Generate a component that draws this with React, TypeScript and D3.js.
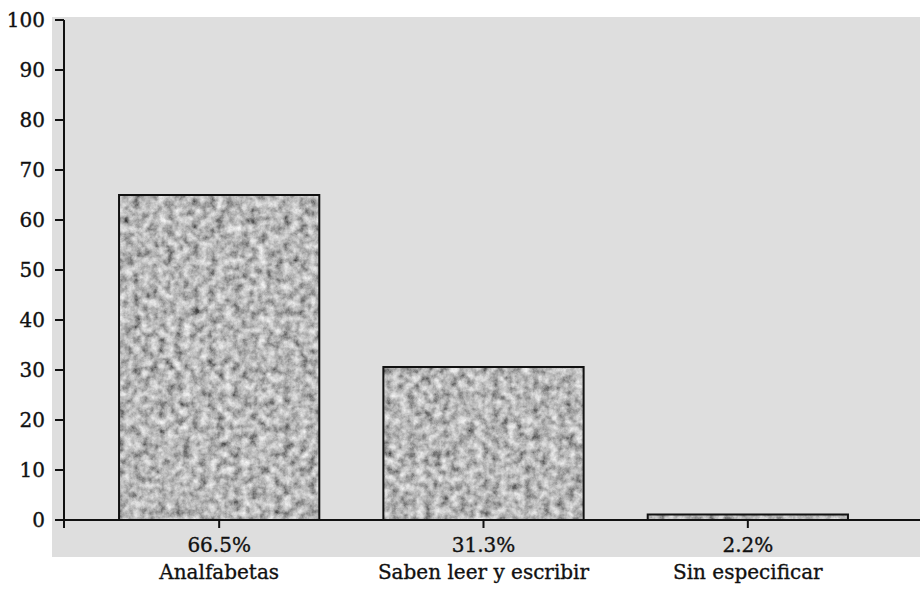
import React from "react";
import * as d3 from "d3";

const categories = ["Analfabetas", "Saben leer y escribir", "Sin especificar"];
const percentLabels = ["66.5%", "31.3%", "2.2%"];
const barValues = [65, 30.6, 1.1];
const yTicks = [0, 10, 20, 30, 40, 50, 60, 70, 80, 90, 100];

const W = 920;
const H = 590;

export default function App() {
  const axisX = 64;
  const y = d3.scaleLinear().domain([0, 100]).range([520, 20]);
  const x = d3.scaleBand().domain(categories).range([87, 880]).paddingInner(0.2424).paddingOuter(0.1212);
  const font = "DejaVu Serif, Liberation Serif, serif";
  const textStyle = { stroke: "#111", strokeWidth: 0.35 } as React.CSSProperties;
  return (
    <svg width={W} height={H} style={{ position: "absolute", left: 0, top: 0 }}>
      <defs>
        <filter id="grain" x="0" y="0" width="100%" height="100%">
          <feTurbulence type="fractalNoise" baseFrequency="0.12" numOctaves="5" seed="7" result="n" />
          <feComponentTransfer in="n" result="g">
            <feFuncR type="linear" slope="1.5" intercept="-0.27" />
            <feFuncG type="linear" slope="1.5" intercept="-0.27" />
            <feFuncB type="linear" slope="1.5" intercept="-0.27" />
            <feFuncA type="linear" slope="0" intercept="1" />
          </feComponentTransfer>
          <feColorMatrix in="g" type="saturate" values="0" result="gray" />
          <feComposite in="gray" in2="SourceGraphic" operator="in" />
        </filter>
      </defs>
      <rect x={0} y={0} width={W} height={H} fill="#ffffff" />
      <rect x={52} y={17} width={W - 52} height={540} fill="#dedede" />
      {barValues.map((v, i) => {
        const bx = x(categories[i])!;
        const bw = x.bandwidth();
        const top = y(v);
        const h = y(0) - top;
        return (
          <g key={i}>
            <rect x={bx} y={top} width={bw} height={h} fill="#8f8f8f" filter="url(#grain)" />
            <rect x={bx} y={top} width={bw} height={h} fill="none" stroke="#111" strokeWidth={2} />
          </g>
        );
      })}
      <line x1={axisX} x2={axisX} y1={y(100)} y2={y(0) + 8} stroke="#111" strokeWidth={2} />
      {yTicks.map((t) => (
        <g key={t}>
          <line x1={55} x2={axisX} y1={y(t)} y2={y(t)} stroke="#111" strokeWidth={2} />
          <text x={45} y={y(t)} dy="0.35em" textAnchor="end" fontFamily={font} fontSize={20} fill="#111" style={textStyle}>
            {t}
          </text>
        </g>
      ))}
      <line x1={axisX} x2={W} y1={y(0)} y2={y(0)} stroke="#111" strokeWidth={2} />
      {categories.map((c, i) => {
        const cx = x(c)! + x.bandwidth() / 2;
        return (
          <g key={c}>
            <line x1={cx} x2={cx} y1={y(0)} y2={y(0) + 8} stroke="#111" strokeWidth={2} />
            <text x={cx} y={545} dy="0.35em" textAnchor="middle" fontFamily={font} fontSize={20} fill="#111" style={textStyle}>
              {percentLabels[i]}
            </text>
            <text x={cx} y={572} dy="0.35em" textAnchor="middle" fontFamily={font} fontSize={20} fill="#111" style={textStyle}>
              {c}
            </text>
          </g>
        );
      })}
    </svg>
  );
}
